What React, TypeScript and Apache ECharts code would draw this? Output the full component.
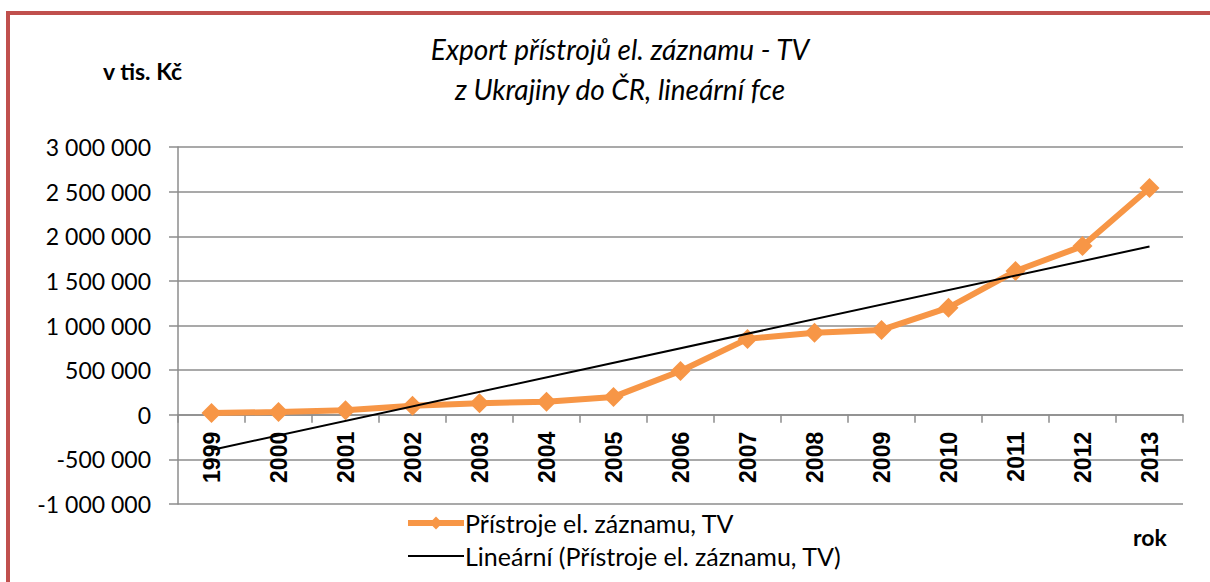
import React, { useEffect, useRef } from "react";
import * as echarts from "echarts";

const years = ["1999", "2000", "2001", "2002", "2003", "2004", "2005", "2006", "2007", "2008", "2009", "2010", "2011", "2012", "2013"];
const exportValues = [20000, 30000, 50000, 100000, 130000, 145000, 200000, 490000, 850000, 920000, 950000, 1200000, 1610000, 1890000, 2540000];
const trendYears = ["1999", "2013"];
const trendValues = [-395000, 1885000];
const seriesName = "Přístroje el. záznamu, TV";
const trendName = "Lineární (Přístroje el. záznamu, TV)";
const titleLines = ["Export přístrojů el. záznamu - TV", "z Ukrajiny do ČR, lineární fce"];

const fmt = (v: number) => String(v).replace(/\B(?=(\d{3})+(?!\d))/g, " ");

export default function App() {
  const ref = useRef<HTMLDivElement>(null);
  useEffect(() => {
    if (!ref.current) return;
    const chart = echarts.init(ref.current, null, { renderer: "svg" });
    const font = "Lato, 'Noto Sans', sans-serif";
    const gridTop = 147;
    const gridBottom = 78;
    const plotH = 582 - gridTop - gridBottom;
    const zeroOffset = -(plotH * 2) / 8; // zero line sits 2 of 8 intervals above the bottom
    chart.setOption({
      animation: false,
      backgroundColor: "#ffffff",
      grid: { left: 178, right: 27, top: gridTop, bottom: gridBottom, containLabel: false },
      title: {
        text: titleLines.join("\n"),
        left: 615,
        top: 24,
        textAlign: "center",
        textStyle: { fontFamily: font, fontStyle: "italic", fontWeight: "normal", fontSize: 28, lineHeight: 40, color: "#000" },
      },
      legend: {
        orient: "vertical",
        left: 400,
        top: 505,
        itemWidth: 56,
        itemHeight: 16,
        itemGap: 7,
        textStyle: { fontFamily: font, fontSize: 25, color: "#000", lineHeight: 26, padding: [0, 0, 0, -4] },
        data: [
          { name: seriesName, lineStyle: { width: 6 } },
          { name: trendName, itemStyle: { opacity: 0 }, lineStyle: { width: 2 } },
        ],
      },
      graphic: [
        {
          type: "rect",
          shape: { x: 8, y: 13, width: 1400, height: 800 },
          style: { fill: "none", stroke: "#C0504D", lineWidth: 4 },
          silent: true,
        },
        {
          type: "text",
          left: 103,
          top: 59,
          style: { text: "v tis. Kč", font: "bold 23px Lato, 'Noto Sans', sans-serif", fill: "#000" },
        },
        {
          type: "text",
          left: 1133,
          top: 525,
          style: { text: "rok", font: "bold 23px Lato, 'Noto Sans', sans-serif", fill: "#000" },
        },
      ],
      xAxis: {
        type: "category",
        data: years,
        boundaryGap: true,
        offset: zeroOffset,
        axisLine: { onZero: false, lineStyle: { color: "#8c8c8c", width: 1.5 } },
        axisTick: { show: true, alignWithLabel: false, length: 8, lineStyle: { color: "#8c8c8c", width: 1.5 } },
        axisLabel: {
          rotate: 90,
          interval: 0,
          margin: 17,
          fontFamily: "'Liberation Sans', Arial, sans-serif",
          fontWeight: "bold",
          fontSize: 23,
          color: "#000",
        },
        splitLine: { show: false },
      },
      yAxis: {
        type: "value",
        min: -1000000,
        max: 3000000,
        interval: 500000,
        axisLine: { show: true, lineStyle: { color: "#8c8c8c", width: 1.5 } },
        axisTick: { show: true, length: 9, lineStyle: { color: "#8c8c8c", width: 1.5 } },
        axisLabel: { formatter: fmt, margin: 27, fontFamily: font, fontSize: 23, color: "#000" },
        splitLine: { show: true, lineStyle: { color: "#8c8c8c", width: 1.5 } },
      },
      series: [
        {
          name: seriesName,
          type: "line",
          data: exportValues,
          symbol: "diamond",
          symbolSize: 20,
          lineStyle: { color: "#F79646", width: 6 },
          itemStyle: { color: "#F79646" },
          z: 3,
        },
        {
          name: trendName,
          type: "line",
          data: trendYears.map((y, i) => [y, trendValues[i]]),
          symbol: "none",
          lineStyle: { color: "#000", width: 2 },
          itemStyle: { color: "#000" },
          z: 4,
        },
      ],
    });
    return () => chart.dispose();
  }, []);
  return <div ref={ref} style={{ position: "absolute", left: 0, top: 0, width: 1210, height: 582 }} />;
}
